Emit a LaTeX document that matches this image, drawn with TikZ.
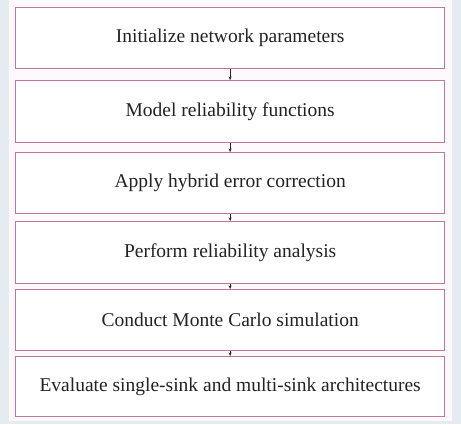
\documentclass[tikz,border=0pt]{standalone}
\usepackage{fontspec}
\setmainfont{Liberation Serif}
\usetikzlibrary{arrows.meta}
\definecolor{bgc}{RGB}{228,236,241}
\definecolor{panel}{RGB}{253,249,252}
\definecolor{boxline}{RGB}{190,120,160}
\definecolor{txt}{RGB}{35,35,35}
\begin{document}
\begin{tikzpicture}[x=1pt,y=-1pt,
  stepbox/.style={draw=boxline, line width=1.3pt, fill=white, minimum width=429pt, inner sep=0pt, anchor=north west, font=\fontsize{19.5}{22}\selectfont, text=txt},
  link/.style={-{Stealth[length=3.5pt,width=3pt]}, line width=0.8pt, draw=txt}]
\fill[bgc] (0,0) rectangle (461,424);
\fill[panel] (9,0) rectangle (452,421);
\node[stepbox, minimum height=61pt] (b1) at (15,7) {Initialize network parameters};
\node[stepbox, minimum height=62pt] (b2) at (15,80) {Model reliability functions};
\node[stepbox, minimum height=61pt] (b3) at (15,152) {Apply hybrid error correction};
\node[stepbox, minimum height=62pt] (b4) at (15,221) {Perform reliability analysis};
\node[stepbox, minimum height=61pt] (b5) at (15,289) {Conduct Monte Carlo simulation};
\node[stepbox, minimum height=60pt] (b6) at (15,356) {Evaluate single-sink and multi-sink architectures};
\draw[link] (b1.south) -- (b2.north);
\draw[link] (b2.south) -- (b3.north);
\draw[link] (b3.south) -- (b4.north);
\draw[link] (b4.south) -- (b5.north);
\draw[link] (b5.south) -- (b6.north);
\end{tikzpicture}
\end{document}
